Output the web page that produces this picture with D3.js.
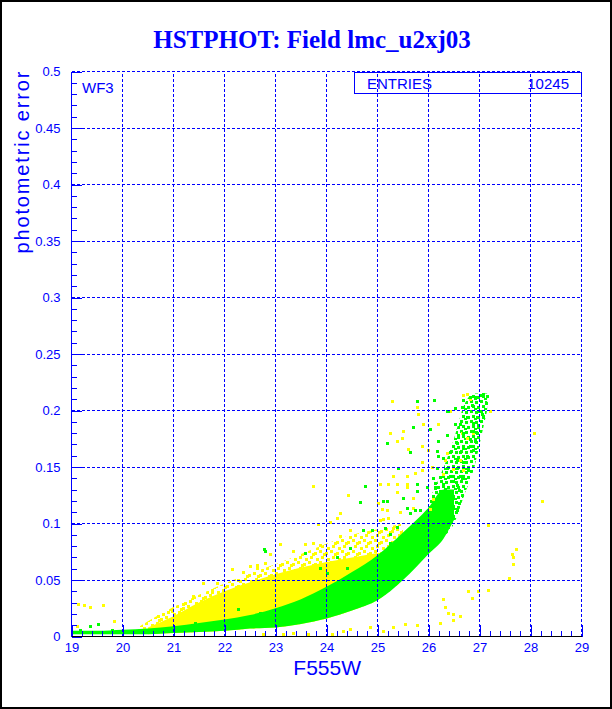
<!DOCTYPE html>
<head>
<meta charset="utf-8">
<style>
body { margin: 0; background: #fff; }
svg { display: block; }
.tick text { font-family: "Liberation Sans", Arial, sans-serif; font-size: 13px; fill: #00f; }
.tick line { stroke: #00f; }
.axis path { display: none; }
.grid line { stroke: #00f; stroke-width: 1; stroke-dasharray: 3,2; shape-rendering: crispEdges; }
</style>
<script src="https://cdn.jsdelivr.net/npm/d3@7"></script>
</head>
<body>
<svg width="612" height="709"></svg>
<script>

// axis ticks
var xTicks = [19, 20, 21, 22, 23, 24, 25, 26, 27, 28, 29];
var yTicks = [0, 0.05, 0.1, 0.15, 0.2, 0.25, 0.3, 0.35, 0.4, 0.45, 0.5];
var yTickLabels = ["0", "0.05", "0.1", "0.15", "0.2", "0.25", "0.3", "0.35", "0.4", "0.45", "0.5"];

// dense green locus (mag, lower / upper error)
var greenMag = [19.0, 19.5, 20.0, 20.5, 21.0, 21.5, 22.0, 22.5, 23.0, 23.5, 24.0, 24.5, 25.0, 25.5, 26.0, 26.3, 26.5];
var greenLo  = [.002, .002, .002, .002, .003, .004, .005, .007, .008, .011, .016, .023, .032, .050, .073, .087, .103];
var greenHi  = [.005, .005, .006, .007, .009, .012, .015, .019, .025, .033, .044, .057, .072, .092, .114, .130, .130];

// sparser green tip of the locus
var tipMag = [26.0, 26.3, 26.5, 26.7, 26.9, 27.05, 27.15];
var tipLo  = [.090, .090, .100, .125, .150, .180, .200];
var tipHi  = [.120, .150, .175, .205, .215, .215, .215];

// dense yellow cloud above the locus
var yellowMag = [20.5, 21.0, 21.5, 22.0, 22.5, 23.0, 23.5, 24.0, 24.5, 25.0];
var yellowLo  = [.002, .003, .004, .005, .007, .008, .011, .016, .023, .032];
var yellowHi  = [.008, .018, .030, .040, .048, .055, .061, .066, .070, .074];

// thinner yellow fringe around it
var fringeMag = [20.3, 21.0, 21.5, 22.0, 22.5, 23.0, 23.5, 24.0, 24.5, 25.0, 25.5];
var fringeLo  = [.002, .003, .004, .005, .007, .008, .011, .016, .023, .032, .050];
var fringeHi  = [.008, .026, .037, .047, .056, .064, .073, .082, .090, .095, .100];

// scattered yellow stars [mag, err]
var yellowPts = [
  [19.10,0.009],[19.13,0.029],[19.25,0.028],[19.36,0.026],[19.62,0.028],[19.83,0.014],
  [20.70,0.018],[20.97,0.023],[21.19,0.029],[21.30,0.023],[21.38,0.036],[21.52,0.029],[21.58,0.047],
  [21.75,0.039],[21.85,0.047],[21.87,0.035],[22.15,0.060],[22.27,0.050],[22.36,0.057],[22.50,0.062],
  [22.64,0.063],[22.64,0.061],[22.80,0.065],[22.90,0.073],[23.09,0.082],[23.34,0.076],[23.58,0.082],
  [23.74,0.083],[23.74,0.133],[23.83,0.100],[23.87,0.081],[24.07,0.101],[24.20,0.105],[24.26,0.109],
  [24.26,0.089],[24.42,0.125],[24.46,0.094],[25.00,0.118],[25.05,0.103],[25.05,0.135],[25.19,0.112],
  [25.20,0.135],[25.38,0.135],[25.58,0.135],
  [22.76,0.002],[23.15,0.002],[23.35,0.003],[23.64,0.002],[24.10,0.002],[24.32,0.005],[24.46,0.007],
  [24.85,0.008],[25.10,0.005],[25.30,0.008],[25.54,0.011],[25.77,0.010],[26.22,0.012],
  [26.29,0.033],[26.33,0.026],[26.39,0.021],[26.48,0.020],[26.48,0.015],[26.61,0.018],[26.78,0.040],
  [26.86,0.034],[26.97,0.040],[27.17,0.041],
  [27.17,0.099],[27.58,0.052],[27.66,0.064],[27.66,0.070],[27.64,0.073],[27.72,0.077],[28.07,0.180],[28.23,0.120],
  [25.28,0.208],[25.77,0.203],[25.80,0.197],[25.25,0.180],[25.50,0.182],[25.48,0.176],[25.90,0.188],
  [26.19,0.188],[26.42,0.200],[26.68,0.214],[26.76,0.215],[26.82,0.210],[27.20,0.200],[25.87,0.169],
  [25.60,0.166],[25.38,0.173],[25.87,0.154],[25.99,0.165],[26.65,0.180],[26.75,0.176],[26.87,0.180],
  [26.36,0.162],[26.32,0.156],[26.62,0.156],[25.87,0.147],[25.74,0.145],[26.07,0.150],[26.29,0.144],
  [26.48,0.148],[26.68,0.147],[25.57,0.142],[25.30,0.142],[25.38,0.128],[25.57,0.132],[25.70,0.123],
  [25.18,0.120],[25.09,0.113],[25.20,0.105],[25.44,0.110],[25.30,0.096],[25.11,0.104],[25.70,0.114],
  [26.03,0.113],[26.09,0.122]
];

// scattered green stars [mag, err]
var greenPts = [
  [27.01,0.214],[27.07,0.215],[27.14,0.213],[26.82,0.212],[26.92,0.212],[27.12,0.207],[26.68,0.209],
  [26.36,0.200],[26.52,0.202],[26.65,0.203],[26.85,0.205],[26.97,0.200],[27.05,0.197],[26.95,0.194],
  [27.07,0.194],[26.75,0.194],[26.52,0.188],[26.61,0.188],[26.88,0.189],[26.97,0.187],[26.68,0.180],
  [26.88,0.182],[26.95,0.180],[26.58,0.178],[26.82,0.175],[26.92,0.173],[26.36,0.178],[26.19,0.173],
  [26.55,0.171],[26.68,0.167],[26.82,0.169],[26.88,0.165],[26.42,0.163],[26.61,0.163],[26.75,0.160],
  [26.29,0.158],[26.55,0.156],[26.68,0.154],[26.17,0.149],[26.36,0.149],[26.55,0.149],[26.68,0.150],
  [26.78,0.147],[26.22,0.141],[26.42,0.142],[26.61,0.142],[26.09,0.140],[26.29,0.135],[26.48,0.138],
  [26.65,0.140],[26.39,0.132],[26.55,0.134],[26.22,0.129],[26.42,0.128],[26.13,0.132],
  [26.60,0.118],[26.65,0.125],[26.55,0.112],[26.60,0.130],
  [25.77,0.208],[26.10,0.209],[25.18,0.171],[26.38,0.200],[25.70,0.185],[26.03,0.184],[25.64,0.163],
  [26.17,0.164],[26.19,0.160],[25.40,0.149],[25.11,0.120],[25.15,0.096],[25.25,0.091],[25.50,0.123],
  [25.77,0.129],[25.97,0.132],[26.13,0.136],[25.83,0.112],[25.64,0.109],
  [23.58,0.074],[22.80,0.076],[24.75,0.133],[24.66,0.119],[24.46,0.078],[24.72,0.094],[24.40,0.061],
  [23.87,0.061],[24.00,0.056],[24.20,0.070],[24.90,0.094],[25.19,0.120],[25.58,0.114],[25.74,0.112],
  [25.77,0.135],[25.38,0.097],[25.25,0.083],
  [19.52,0.011],[19.36,0.009],[19.17,0.006],[19.80,0.006],[21.42,0.012],[21.81,0.012],[22.27,0.024],
  [22.70,0.021],[22.77,0.077]
];

var svg = d3.select("svg");

var x = d3.scaleLinear().domain([19, 29]).range([71.5, 581.5]);
var y = d3.scaleLinear().domain([0, 0.5]).range([636.5, 71.5]);

// speckle fills for the sparse parts of the cloud
var defs = svg.append("defs");
function speckle(id, color, size, cells) {
  var p = defs.append("pattern")
      .attr("id", id)
      .attr("patternUnits", "userSpaceOnUse")
      .attr("width", size).attr("height", size);
  cells.forEach(function(c) {
    p.append("rect").attr("x", c[0]).attr("y", c[1])
        .attr("width", 3).attr("height", 3).attr("fill", color);
  });
}
speckle("ySparse", "#ff0", 11, [[0, 0], [6, 2], [2, 6], [8, 8], [4, 3]]);
speckle("gSparse", "#0f0", 10, [[0, 0], [5, 1], [2, 5], [7, 6], [4, 8]]);

// window border
svg.append("rect")
    .attr("x", 1).attr("y", 1).attr("width", 610).attr("height", 707)
    .attr("fill", "none").attr("stroke", "#000").attr("stroke-width", 2);

// title
svg.append("text")
    .attr("x", 312).attr("y", 48)
    .attr("text-anchor", "middle")
    .style("font-family", "'Liberation Serif', 'Times New Roman', serif")
    .style("font-weight", "bold")
    .style("font-size", "25px")
    .style("fill", "#00f")
    .text("HSTPHOT: Field lmc_u2xj03");

var plot = svg.append("g");

function area(mags, lo, hi) {
  return d3.area()
      .curve(d3.curveMonotoneX)
      .x(function(d, i) { return x(mags[i]); })
      .y0(function(d, i) { return y(lo[i]); })
      .y1(function(d, i) { return y(hi[i]); })(mags);
}

plot.append("path")
    .attr("d", area(fringeMag, fringeLo, fringeHi))
    .attr("fill", "url(#ySparse)");

plot.append("path")
    .attr("d", area(yellowMag, yellowLo, yellowHi))
    .attr("fill", "#ff0");

plot.append("path")
    .attr("d", area(tipMag, tipLo, tipHi))
    .attr("fill", "url(#gSparse)");

plot.append("path")
    .attr("d", area(greenMag, greenLo, greenHi))
    .attr("fill", "#0f0");

plot.selectAll(".ys")
  .data(yellowPts)
  .enter().append("rect")
    .attr("x", function(d) { return Math.round(x(d[0])) - 1; })
    .attr("y", function(d) { return Math.round(y(d[1])) - 1; })
    .attr("width", 3).attr("height", 3)
    .attr("fill", "#ff0");

plot.selectAll(".gs")
  .data(greenPts)
  .enter().append("rect")
    .attr("x", function(d) { return Math.round(x(d[0])) - 1; })
    .attr("y", function(d) { return Math.round(y(d[1])) - 1; })
    .attr("width", 3).attr("height", 3)
    .attr("fill", "#0f0");

// dotted grid, drawn over the points
var grid = svg.append("g").attr("class", "grid");
grid.selectAll(".gx")
  .data(xTicks.slice(1))
  .enter().append("line")
    .attr("x1", function(d) { return x(d); }).attr("x2", function(d) { return x(d); })
    .attr("y1", y(0)).attr("y2", y(0.5));
grid.selectAll(".gy")
  .data(yTicks.slice(1))
  .enter().append("line")
    .attr("x1", x(19)).attr("x2", x(29))
    .attr("y1", function(d) { return y(d); }).attr("y2", function(d) { return y(d); });

// y axis: minor + major ticks pointing inside
var yMinor = d3.range(0, 51).map(function(i) { return i / 100; });
svg.append("g")
    .attr("class", "axis")
    .attr("transform", "translate(" + x(19) + ",0)")
    .call(d3.axisLeft(y).tickValues(yMinor).tickSize(-5).tickFormat(""));
svg.append("g")
    .attr("class", "axis")
    .attr("transform", "translate(" + x(19) + ",0)")
    .call(d3.axisLeft(y).tickValues(yTicks).tickSize(-10).tickPadding(11)
      .tickFormat(function(d, i) { return yTickLabels[i]; }));

// x axis
var xMinor = d3.range(0, 51).map(function(i) { return 19 + i / 5; });
svg.append("g")
    .attr("class", "axis")
    .attr("transform", "translate(0," + y(0) + ")")
    .call(d3.axisBottom(x).tickValues(xMinor).tickSize(-6).tickFormat(""));
svg.append("g")
    .attr("class", "axis")
    .attr("transform", "translate(0," + y(0) + ")")
    .call(d3.axisBottom(x).tickValues(xTicks).tickSize(-12).tickPadding(6).tickFormat(d3.format("d")));

svg.selectAll(".tick line").attr("shape-rendering", "crispEdges");

// axis lines
svg.append("line")
    .attr("x1", x(19)).attr("x2", x(19)).attr("y1", y(0)).attr("y2", y(0.5))
    .attr("stroke", "#00f").attr("shape-rendering", "crispEdges");
svg.append("line")
    .attr("x1", x(19)).attr("x2", x(29)).attr("y1", y(0)).attr("y2", y(0))
    .attr("stroke", "#000").attr("shape-rendering", "crispEdges");

// axis titles
svg.append("text")
    .attr("transform", "translate(29," + y(0.5) + ") rotate(-90)")
    .attr("text-anchor", "end")
    .attr("textLength", 182)
    .attr("lengthAdjust", "spacing")
    .style("font-family", "'Liberation Sans', Arial, sans-serif")
    .style("font-size", "20px")
    .style("fill", "#00f")
    .text("photometric error");

svg.append("text")
    .attr("x", 361).attr("y", 675)
    .attr("text-anchor", "end")
    .style("font-family", "'Liberation Sans', Arial, sans-serif")
    .style("font-size", "21px")
    .style("fill", "#00f")
    .text("F555W");

// pad label
svg.append("text")
    .attr("x", 82).attr("y", 93)
    .style("font-family", "'Liberation Sans', Arial, sans-serif")
    .style("font-size", "15px")
    .style("fill", "#00f")
    .text("WF3");

// stats box
svg.append("rect")
    .attr("x", 354.5).attr("y", 72.5).attr("width", 227).attr("height", 21)
    .attr("fill", "none").attr("stroke", "#00f").attr("shape-rendering", "crispEdges");
svg.append("text")
    .attr("x", 367).attr("y", 89)
    .style("font-family", "'Liberation Sans', Arial, sans-serif")
    .style("font-size", "15px")
    .style("fill", "#00f")
    .text("ENTRIES");
svg.append("text")
    .attr("x", 569).attr("y", 89)
    .attr("text-anchor", "end")
    .style("font-family", "'Liberation Sans', Arial, sans-serif")
    .style("font-size", "15px")
    .style("fill", "#00f")
    .text("10245");

</script>
</body>
</html>
